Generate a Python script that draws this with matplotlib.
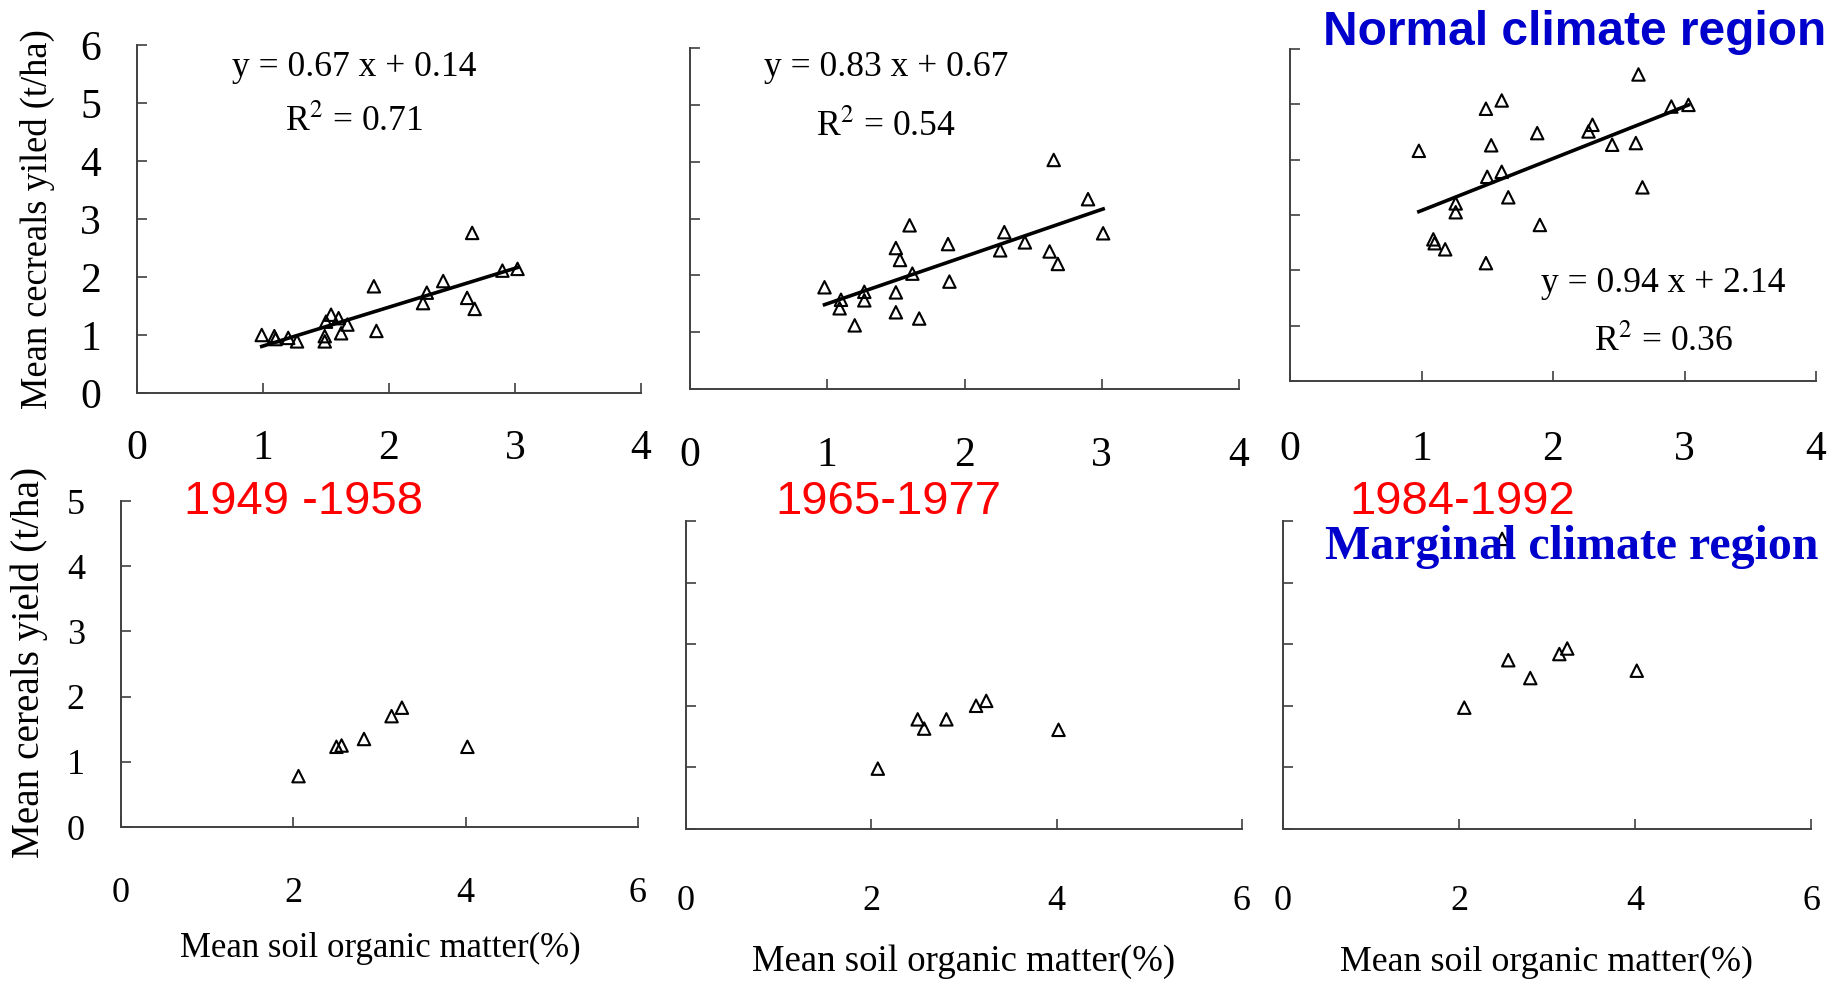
import matplotlib.pyplot as plt
import numpy as np

plt.rcParams['font.family'] = ['Liberation Serif', 'DejaVu Serif']
plt.rcParams['mathtext.fontset'] = 'stix'

# normal climate region: soil organic matter (%) vs cereal yield (t/ha)
norm_x_49 = [0.99, 1.09, 1.10, 1.20, 1.27, 1.49, 1.49, 1.50, 1.54, 1.60, 1.62, 1.67,
             1.88, 1.90, 2.27, 2.30, 2.43, 2.62, 2.66, 2.68, 2.90, 3.02]
norm_y_49 = [1.00, 0.98, 0.93, 0.95, 0.89, 0.98, 0.89, 1.23, 1.35, 1.29, 1.03, 1.18,
             1.84, 1.07, 1.55, 1.73, 1.93, 1.64, 2.76, 1.45, 2.11, 2.14]

norm_x_65 = [0.98, 1.10, 1.09, 1.20, 1.27, 1.27, 1.50, 1.53, 1.50, 1.50, 1.60, 1.62,
             1.67, 1.88, 1.89, 2.26, 2.29, 2.44, 2.62, 2.65, 2.68, 2.90, 3.01]
norm_y_65 = [1.79, 1.57, 1.42, 1.12, 1.71, 1.56, 2.48, 2.27, 1.70, 1.35, 2.88, 2.03,
             1.24, 2.55, 1.89, 2.44, 2.76, 2.58, 2.42, 4.03, 2.20, 3.34, 2.74]

norm_x_84 = [0.98, 1.09, 1.10, 1.18, 1.26, 1.26, 1.49, 1.49, 1.50, 1.53, 1.61, 1.61,
             1.66, 1.88, 1.90, 2.27, 2.30, 2.45, 2.63, 2.65, 2.68, 2.90, 3.03]
norm_y_84 = [4.16, 2.56, 2.49, 2.38, 3.21, 3.05, 4.92, 2.13, 3.69, 4.26, 5.07, 3.78,
             3.32, 4.48, 2.82, 4.51, 4.63, 4.27, 4.30, 5.54, 3.50, 4.96, 4.99]

fit_slope = [0.67, 0.83, 0.94]
fit_icpt = [0.14, 0.67, 2.14]
fit_r2 = [0.71, 0.54, 0.36]

# marginal climate region
marg_x_49 = [2.06, 2.50, 2.56, 2.82, 3.14, 3.26, 4.02]
marg_y_49 = [0.78, 1.23, 1.25, 1.35, 1.70, 1.83, 1.23]
marg_x_65 = [2.07, 2.50, 2.57, 2.81, 3.13, 3.24, 4.02]
marg_y_65 = [0.98, 1.78, 1.63, 1.78, 2.00, 2.08, 1.61]
marg_x_84 = [2.06, 2.49, 2.56, 2.81, 3.14, 3.23, 4.02]
marg_y_84 = [1.97, 4.71, 2.74, 2.45, 2.84, 2.93, 2.57]

periods = ['1949 -1958', '1965-1977', '1984-1992']

W, H = 1841, 985
fig = plt.figure(figsize=(W / 100, H / 100), dpi=100)


def box(x0, x1, y_bot, y_top):
    # pixel box -> figure fraction
    return [x0 / W, 1 - y_bot / H, (x1 - x0) / W, (y_bot - y_top) / H]


top_boxes = [box(137, 641, 393, 45), box(690, 1239, 389, 48), box(1290, 1816, 381, 49)]
bot_boxes = [box(121, 638, 827, 501), box(686, 1242, 829, 521), box(1283, 1811, 829, 521)]
top_pads = [26, 34, 36]
bot_pads = [36, 40, 40]


def style(ax, xmax, ymax, xstep, xpad, fs, show_y):
    ax.set_xlim(0, xmax)
    ax.set_ylim(0, ymax)
    ax.set_xticks(np.arange(0, xmax + 1, xstep))
    ax.set_yticks(np.arange(0, ymax + 1, 1))
    for s in ['top', 'right']:
        ax.spines[s].set_visible(False)
    for s in ['left', 'bottom']:
        ax.spines[s].set_color('#404040')
        ax.spines[s].set_linewidth(1.4)
    ax.tick_params(direction='in', length=7, width=1.2, color='#404040', labelsize=fs)
    ax.tick_params(axis='x', pad=xpad)
    ax.tick_params(axis='y', pad=26)
    if not show_y:
        ax.set_yticklabels([])
    ax.patch.set_alpha(0)


top_x = [norm_x_49, norm_x_65, norm_x_84]
top_y = [norm_y_49, norm_y_65, norm_y_84]
eq_pos = [(1.72, 5.62, 4.67), (1.43, 5.65, 4.61), (2.84, 1.77, 0.71)]

for i in range(3):
    ax = fig.add_axes(top_boxes[i])
    style(ax, 4, 6, 1, top_pads[i], 30, i == 0)
    ax.scatter(top_x[i], top_y[i], marker='^', s=80, facecolors='none',
               edgecolors='black', linewidths=1.5, zorder=3, clip_on=False)
    xs = np.array([min(top_x[i]), max(top_x[i])])
    ax.plot(xs, np.polyval([fit_slope[i], fit_icpt[i]], xs), color='black', lw=2.6, zorder=4)
    ex, ey, ry = eq_pos[i]
    ax.text(ex, ey, 'y = %.2f x + %.2f' % (fit_slope[i], fit_icpt[i]), fontsize=25.6,
            ha='center', va='center')
    ax.text(ex, ry, 'R$^{\\mathrm{2}}$ = %.2f' % fit_r2[i], fontsize=25.6,
            ha='center', va='center')

bot_x = [marg_x_49, marg_x_65, marg_x_84]
bot_y = [marg_y_49, marg_y_65, marg_y_84]

for i in range(3):
    ax = fig.add_axes(bot_boxes[i])
    style(ax, 6, 5, 2, bot_pads[i], 26, i == 0)
    ax.scatter(bot_x[i], bot_y[i], marker='^', s=80, facecolors='none',
               edgecolors='black', linewidths=1.5, zorder=3, clip_on=False)

# axis titles
fig.text(37 / W, 1 - 219 / H, 'Mean cecreals yiled (t/ha)', rotation=90, fontsize=26.3,
         ha='center', va='center')
fig.text(29 / W, 1 - 662 / H, 'Mean cereals yield (t/ha)', rotation=90, fontsize=28.3,
         ha='center', va='center')
for cx, cy, fs in [(380, 948, 25), (964, 962, 26.5), (1547, 962, 25.8)]:
    fig.text(cx / W, 1 - cy / H, 'Mean soil organic matter(%)', fontsize=fs,
             ha='center', va='center')

# period labels
for cx, p in zip([304, 888, 1462], periods):
    fig.text(cx / W, 1 - 514 / H, p, color='#FF0000', fontsize=34,
             family='Liberation Sans', ha='center', va='baseline')

fig.text(1575 / W, 1 - 45 / H, 'Normal climate region', color='#0000CC', fontsize=34.5,
         family='Liberation Sans', weight='bold', ha='center', va='baseline')
fig.text(1572 / W, 1 - 559 / H, 'Marginal climate region', color='#0000CC', fontsize=34.5,
         weight='bold', ha='center', va='baseline', zorder=1)

fig.savefig('out.png', dpi=100)
